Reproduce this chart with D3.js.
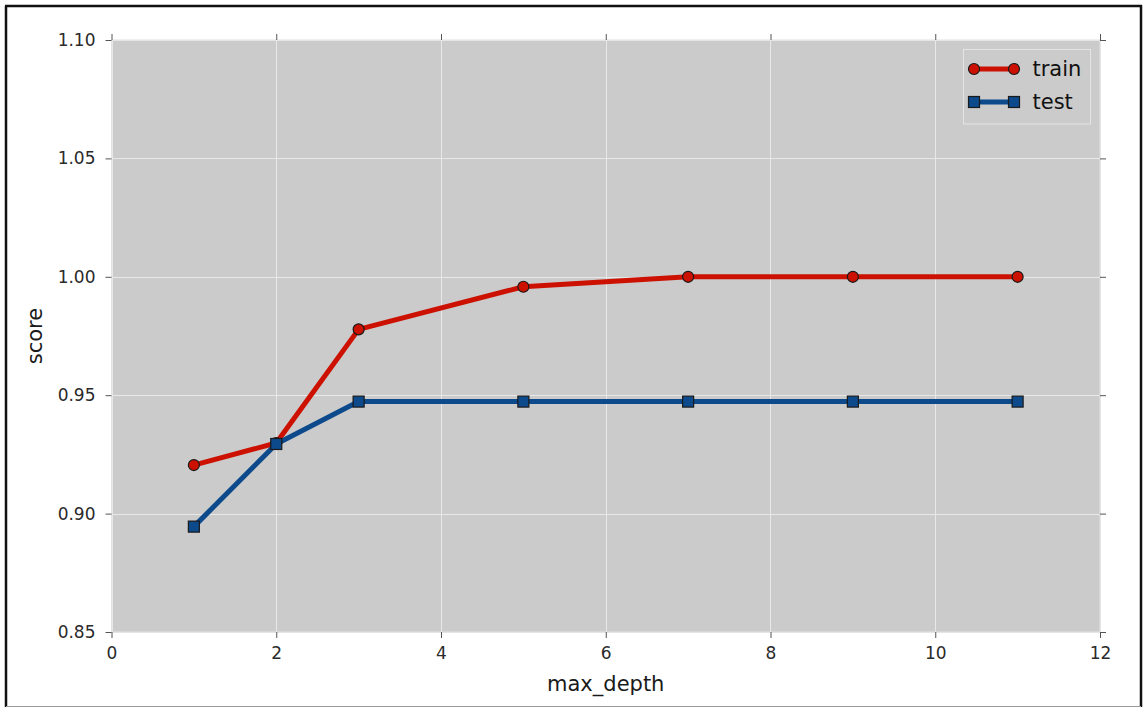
<!DOCTYPE html>
<html>
<head>
<meta charset="utf-8">
<script src="https://cdn.jsdelivr.net/npm/d3@7"></script>
<style>
  html, body { margin: 0; padding: 0; background: #fff; }
  svg { display: block; font-family: "DejaVu Sans", sans-serif; }
</style>
</head>
<body>
<svg id="chart" width="1143" height="708"></svg>
<script>
// ---- data ----
const maxDepth = [1, 2, 3, 5, 7, 9, 11];
const trainScores = [0.9205, 0.9298, 0.9778, 0.9958, 1.0, 1.0, 1.0];
const testScores = [0.8945, 0.9294, 0.9473, 0.9473, 0.9473, 0.9473, 0.9473];
const xTicks = [0, 2, 4, 6, 8, 10, 12];
const yTicks = [0.85, 0.90, 0.95, 1.00, 1.05, 1.10];
const seriesNames = ["train", "test"];

// ---- layout ----
const plotL = 111.5, plotR = 1100, plotT = 40, plotB = 632;
const svg = d3.select("#chart");

// outer frame
svg.append("line").attr("x1", 6).attr("y1", 6).attr("x2", 6).attr("y2", 707).attr("stroke", "#111").attr("stroke-width", 2.5);
svg.append("line").attr("x1", 5).attr("y1", 6).attr("x2", 1142).attr("y2", 6).attr("stroke", "#111").attr("stroke-width", 2.5);
svg.append("line").attr("x1", 1141).attr("y1", 5).attr("x2", 1141).attr("y2", 707).attr("stroke", "#111").attr("stroke-width", 2.5);
svg.append("line").attr("x1", 6).attr("y1", 706.5).attr("x2", 1141).attr("y2", 706.5).attr("stroke", "#999").attr("stroke-width", 1);

const x = d3.scaleLinear().domain([0, 12]).range([plotL, plotR]);
const y = d3.scaleLinear().domain([0.85, 1.10]).range([plotB, plotT]);

// axes background
svg.append("rect").attr("x", plotL).attr("y", plotT).attr("width", plotR - plotL).attr("height", plotB - plotT)
  .attr("fill", "#cbcbcb");

// grid
const grid = svg.append("g").attr("stroke", "#e8e8e8").attr("stroke-width", 1);
grid.selectAll(".gx").data(xTicks).join("line")
  .attr("x1", d => Math.round(x(d)) + 0.5).attr("x2", d => Math.round(x(d)) + 0.5)
  .attr("y1", plotT).attr("y2", plotB);
grid.selectAll(".gy").data(yTicks).join("line")
  .attr("y1", d => Math.round(y(d)) + 0.5).attr("y2", d => Math.round(y(d)) + 0.5)
  .attr("x1", plotL).attr("x2", plotR);

// axes edge
svg.append("rect").attr("x", plotL).attr("y", plotT).attr("width", plotR - plotL).attr("height", plotB - plotT)
  .attr("fill", "none").attr("stroke", "#e2e2e2").attr("stroke-width", 1);

function styleAxis(g, showLabels) {
  g.select(".domain").remove();
  g.selectAll(".tick line").attr("stroke", "#555").attr("stroke-width", 1);
  g.selectAll(".tick text").attr("fill", "#2a2a2a").attr("font-size", 17)
    .attr("font-family", "DejaVu Sans, sans-serif");
  if (!showLabels) g.selectAll(".tick text").remove();
}

const fmtY = d3.format(".2f");
svg.append("g").attr("transform", `translate(0,${plotB})`)
  .call(d3.axisBottom(x).tickValues(xTicks).tickSize(6).tickPadding(9).tickFormat(d3.format("d")))
  .call(g => styleAxis(g, true));
svg.append("g").attr("transform", `translate(0,${plotT})`)
  .call(d3.axisTop(x).tickValues(xTicks).tickSize(6))
  .call(g => styleAxis(g, false));
svg.append("g").attr("transform", `translate(${plotL},0)`)
  .call(d3.axisLeft(y).tickValues(yTicks).tickSize(6).tickPadding(10).tickFormat(fmtY))
  .call(g => styleAxis(g, true));
svg.append("g").attr("transform", `translate(${plotR},0)`)
  .call(d3.axisRight(y).tickValues(yTicks).tickSize(6))
  .call(g => styleAxis(g, false));

// axis labels
svg.append("text").attr("x", (plotL + plotR) / 2).attr("y", 691).attr("text-anchor", "middle")
  .attr("font-size", 21).attr("fill", "#1a1a1a").text("max_depth");
svg.append("text").attr("transform", `translate(42,${(plotT + plotB) / 2}) rotate(-90)`)
  .attr("text-anchor", "middle").attr("font-size", 21).attr("fill", "#1a1a1a").text("score");

// series
const colors = { train: "#cc1100", test: "#0d4a8c" };
const line = d3.line().x(d => x(d[0])).y(d => y(d[1]));
const trainPts = maxDepth.map((d, i) => [d, trainScores[i]]);
const testPts = maxDepth.map((d, i) => [d, testScores[i]]);

svg.append("path").datum(trainPts).attr("d", line).attr("fill", "none")
  .attr("stroke", colors.train).attr("stroke-width", 5).attr("stroke-linejoin", "round");
svg.append("path").datum(testPts).attr("d", line).attr("fill", "none")
  .attr("stroke", colors.test).attr("stroke-width", 5).attr("stroke-linejoin", "round");

svg.append("g").selectAll("circle").data(trainPts).join("circle")
  .attr("cx", d => x(d[0])).attr("cy", d => y(d[1])).attr("r", 5.5)
  .attr("fill", colors.train).attr("stroke", "#1a1a1a").attr("stroke-width", 1.2);
const sq = 11;
svg.append("g").selectAll("rect").data(testPts).join("rect")
  .attr("x", d => x(d[0]) - sq / 2).attr("y", d => y(d[1]) - sq / 2)
  .attr("width", sq).attr("height", sq)
  .attr("fill", colors.test).attr("stroke", "#1a1a1a").attr("stroke-width", 1.2);

// legend
const lg = svg.append("g");
lg.append("rect").attr("x", 963.5).attr("y", 49.5).attr("width", 127).attr("height", 74.5)
  .attr("fill", "#cbcbcb").attr("stroke", "#e4e4e4").attr("stroke-width", 1);
const rowsY = [69, 102];
seriesNames.forEach((name, i) => {
  const yy = rowsY[i];
  lg.append("line").attr("x1", 974).attr("x2", 1014).attr("y1", yy).attr("y2", yy)
    .attr("stroke", colors[name]).attr("stroke-width", 5);
  [974, 1014].forEach(cx => {
    if (name === "train") {
      lg.append("circle").attr("cx", cx).attr("cy", yy).attr("r", 5.5)
        .attr("fill", colors[name]).attr("stroke", "#1a1a1a").attr("stroke-width", 1.2);
    } else {
      lg.append("rect").attr("x", cx - sq / 2).attr("y", yy - sq / 2).attr("width", sq).attr("height", sq)
        .attr("fill", colors[name]).attr("stroke", "#1a1a1a").attr("stroke-width", 1.2);
    }
  });
  lg.append("text").attr("x", 1032.5).attr("y", yy + 7).attr("font-size", 21).attr("fill", "#111").text(name);
});
</script>
</body>
</html>
